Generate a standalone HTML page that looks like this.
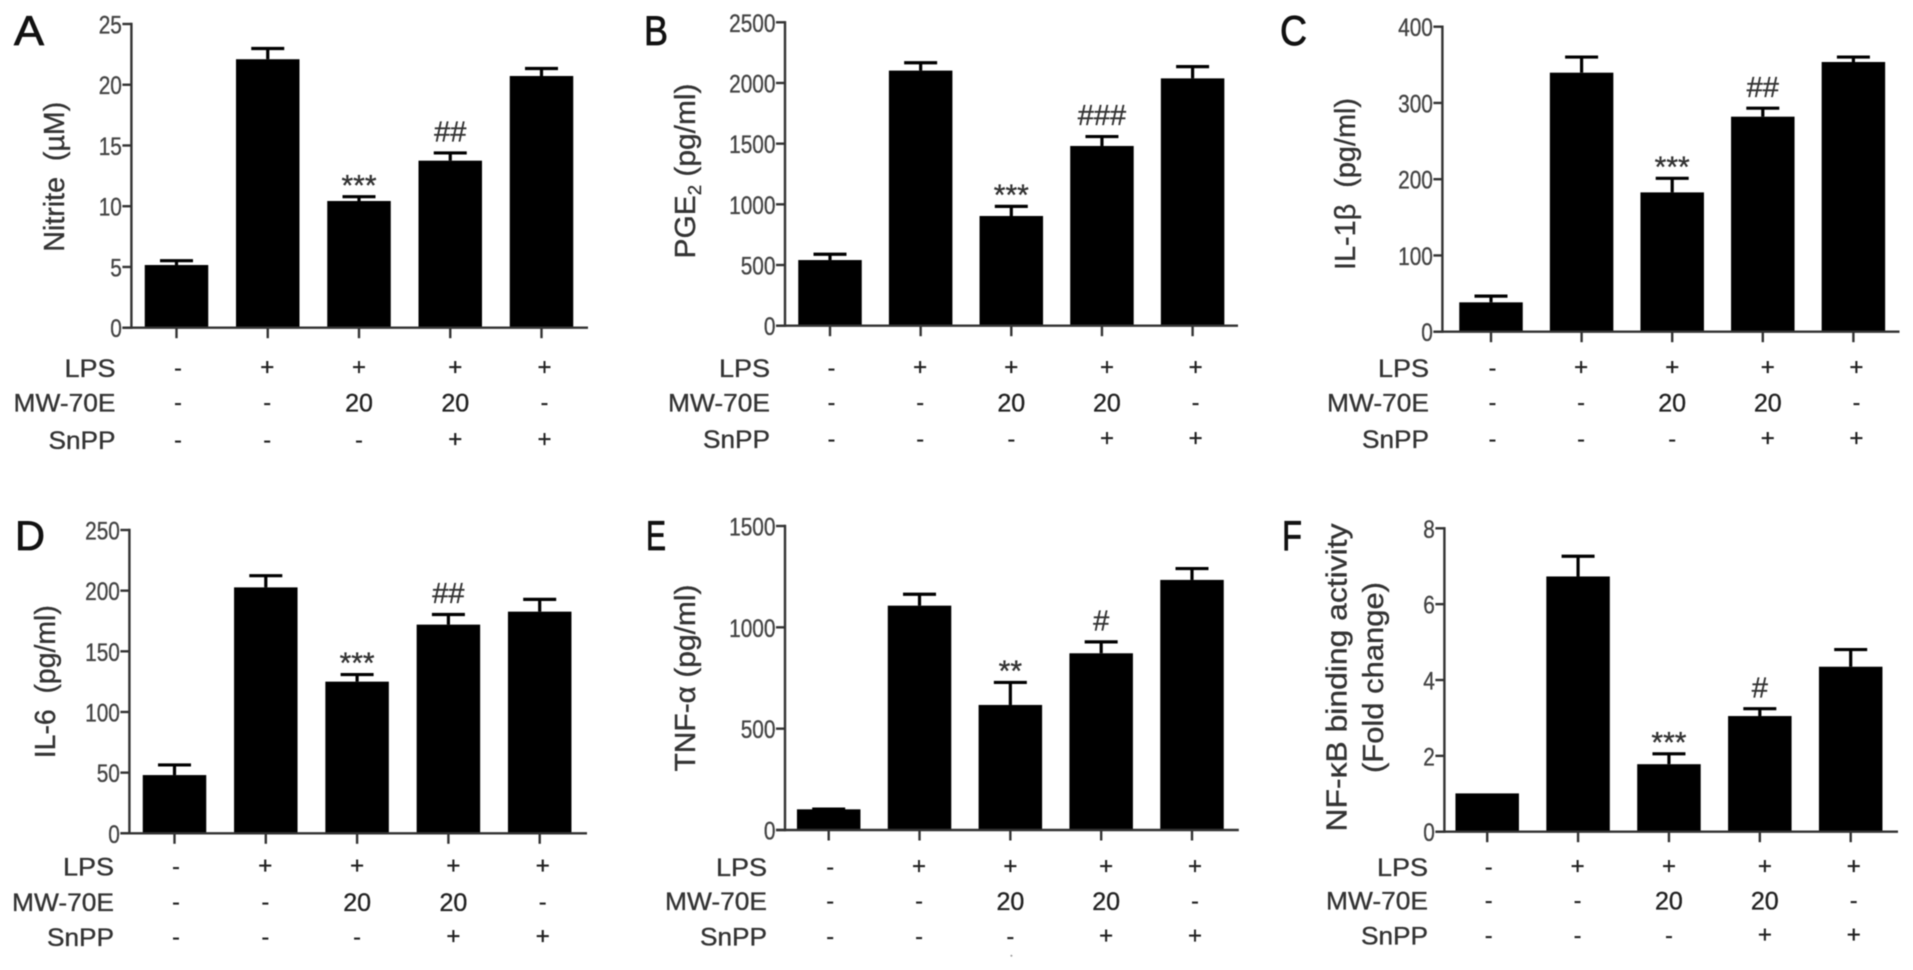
<!DOCTYPE html>
<html lang="en">
<head>
<meta charset="utf-8">
<title>Inflammatory mediator bar charts</title>
<style>
  html, body { margin: 0; padding: 0; background: #fff; }
  svg { display: block; filter: blur(0.6px); font-family: "Liberation Sans", sans-serif; }
</style>
</head>
<body>
<svg id="figure" xmlns="http://www.w3.org/2000/svg" width="1913" height="970" viewBox="0 0 1913 970"></svg>
<script>
// Treatment table
const lpsRow = ['-', '+', '+', '+', '+'];
const mwRow = ['-', '-', '20', '20', '-'];
const snppRow = ['-', '-', '-', '+', '+'];

// Panel A: Nitrite
const nitriteValues = [5.16, 22.1, 10.43, 13.75, 20.72];
const nitriteErrorTops = [5.63, 23.1, 10.9, 14.5, 21.45];
const nitriteTicks = [0, 5, 10, 15, 20, 25];
const nitriteMarks = ['', '', '***', '##', ''];

// Panel B: PGE2
const pgeValues = [541, 2102, 904, 1481, 2038];
const pgeErrorTops = [600, 2178, 995, 1570, 2146];
const pgeTicks = [0, 500, 1000, 1500, 2000, 2500];
const pgeMarks = ['', '', '***', '###', ''];

// Panel C: IL-1 beta
const il1Values = [38.5, 339.7, 182.7, 282, 353.7];
const il1ErrorTops = [48.5, 362, 203, 295, 362];
const il1Ticks = [0, 100, 200, 300, 400];
const il1Marks = ['', '', '***', '##', ''];

// Panel D: IL-6
const il6Values = [48, 202.7, 125, 172, 182.7];
const il6ErrorTops = [57.5, 213.5, 132, 181.5, 194];
const il6Ticks = [0, 50, 100, 150, 200, 250];
const il6Marks = ['', '', '***', '##', ''];

// Panel E: TNF-alpha
const tnfValues = [102, 1107, 617, 872, 1234];
const tnfErrorTops = [110, 1170, 735, 935, 1297];
const tnfTicks = [0, 500, 1000, 1500];
const tnfMarks = ['', '', '**', '#', ''];

// Panel F: NF-kB
const nfkbValues = [1.01, 6.73, 1.78, 3.05, 4.35];
const nfkbErrorTops = [1.01, 7.3, 2.09, 3.28, 4.84];
const nfkbTicks = [0, 2, 4, 6, 8];
const nfkbMarks = ['', '', '***', '#', ''];

const panels = [
  { key: 'a', letter: 'A', values: nitriteValues, errs: nitriteErrorTops, ticks: nitriteTicks, marks: nitriteMarks,
    axisX: 131.4, y0: 327.7, yTop: 24, xEnd: 588, first: 176.5, last: 541.5,
    rows: [368, 402.5, 440], labelRight: 115.5,
    letterX: 14, letterY: 45, letterW: 30,
    titles: [{ text: 'Nitrite \u00A0(\u00B5M)', x: 64, cy: 176.7, len: 150 }] },
  { key: 'b', letter: 'B', values: pgeValues, errs: pgeErrorTops, ticks: pgeTicks, marks: pgeMarks,
    axisX: 785, y0: 325.7, yTop: 22.3, xEnd: 1238, first: 830, last: 1192.6,
    rows: [368, 402.5, 439], labelRight: 770,
    letterX: 644, letterY: 45, letterW: 24,
    titles: [{ text: 'PGE', sub: '2', rest: ' (pg/ml)', x: 695, cy: 171, len: 175 }] },
  { key: 'c', letter: 'C', values: il1Values, errs: il1ErrorTops, ticks: il1Ticks, marks: il1Marks,
    axisX: 1442.4, y0: 331.7, yTop: 26.7, xEnd: 1899.5, first: 1491, last: 1853.4,
    rows: [368, 402.5, 439], labelRight: 1429,
    letterX: 1280, letterY: 45, letterW: 27,
    titles: [{ text: 'IL-1\u03B2 \u00A0(pg/ml)', x: 1355, cy: 184, len: 172 }] },
  { key: 'd', letter: 'D', values: il6Values, errs: il6ErrorTops, ticks: il6Ticks, marks: il6Marks,
    axisX: 129.4, y0: 833.3, yTop: 530, xEnd: 587, first: 174.5, last: 539.7,
    rows: [866.7, 902, 937], labelRight: 114,
    letterX: 15, letterY: 550, letterW: 30,
    titles: [{ text: 'IL-6 \u00A0(pg/ml)', x: 55, cy: 681.7, len: 153 }] },
  { key: 'e', letter: 'E', values: tnfValues, errs: tnfErrorTops, ticks: tnfTicks, marks: tnfMarks,
    axisX: 785, y0: 830, yTop: 526, xEnd: 1238.8, first: 828.7, last: 1192,
    rows: [867, 901, 936.7], labelRight: 767,
    letterX: 646, letterY: 550, letterW: 20,
    titles: [{ text: 'TNF-\u03B1 (pg/ml)', x: 695, cy: 678, len: 187 }] },
  { key: 'f', letter: 'F', values: nfkbValues, errs: nfkbErrorTops, ticks: nfkbTicks, marks: nfkbMarks,
    axisX: 1444.4, y0: 831.7, yTop: 528.3, xEnd: 1898, first: 1487.2, last: 1850.7,
    rows: [867, 900.5, 935.7], labelRight: 1428,
    letterX: 1282, letterY: 550, letterW: 20,
    titles: [{ text: 'NF-\u03BAB binding activity', x: 1346.5, cy: 677.5, len: 308 },
             { text: '(Fold change)', x: 1383, cy: 677.5, len: 191 }] }
];

const rowNames = ['LPS', 'MW-70E', 'SnPP'];
const rowLabelLengths = [51, 102, 67];
const rowData = [lpsRow, mwRow, snppRow];
const columnShift = [1.5, -0.5, 0, 5, 3];
const BAR_W = 63.5;
const CAP_W = 33;
const INK = '#333';
const THIN = 0.35;

const svg = document.getElementById('figure');
const NS = 'http://www.w3.org/2000/svg';

function make(tag, props, parent) {
  const el = document.createElementNS(NS, tag);
  for (const k in props) el.setAttribute(k, props[k]);
  parent.appendChild(el);
  return el;
}

function yScale(p, v) {
  const max = p.ticks[p.ticks.length - 1];
  return p.y0 - (v / max) * (p.y0 - p.yTop);
}

function xScale(p, i) {
  return p.first + i * (p.last - p.first) / (p.values.length - 1);
}

panels.forEach(function (p) {
  const g = make('g', {}, svg);
  
  

  const letter = make('text', { x: p.letterX, y: p.letterY, 'font-size': 42, fill: '#111', stroke: '#111', 'stroke-width': 0.8, textLength: p.letterW, lengthAdjust: 'spacingAndGlyphs' }, g);
  
  
  letter.textContent = p.letter;

  p.titles.forEach(function (t) {
    const title = make('text', { transform: 'translate(' + t.x + ',' + t.cy + ') rotate(-90)', 'text-anchor': 'middle', 'font-size': 29, fill: INK, stroke: INK, 'stroke-width': THIN, textLength: t.len, lengthAdjust: 'spacingAndGlyphs' }, g);
    
    
    if (t.sub) {
      const a = make('tspan', {}, title);
      a.textContent = t.text;
      const b = make('tspan', { 'font-size': 18, dy: 6 }, title);
      b.textContent = t.sub;
      const c = make('tspan', { dy: -6 }, title);
      c.textContent = t.rest;
    } else {
      title.textContent = t.text;
    }
  });

  p.values.forEach(function (v, i) {
    const cx = xScale(p, i);
    const top = yScale(p, v);
    const bar = make('rect', { x: cx - BAR_W / 2, y: top, width: BAR_W, height: p.y0 - top, fill: '#000' }, g);
    
    

    const errY = yScale(p, p.errs[i]) + 1.4;
    if (p.errs[i] > v) {
      const stem = make('line', { x1: cx, x2: cx, y1: top, y2: errY, stroke: '#000', 'stroke-width': 3.2 }, g);
      
      
      const cap = make('line', { x1: cx - CAP_W / 2, x2: cx + CAP_W / 2, y1: errY, y2: errY, stroke: '#000', 'stroke-width': 3.2 }, g);
      
      
    }

    const tick = make('line', { x1: cx, x2: cx, y1: p.y0, y2: p.y0 + 10.5, stroke: INK, 'stroke-width': 2.4 }, g);
    
    

    const m = p.marks[i];
    if (m) {
      const isStar = m.charAt(0) === '*';
      const markY = yScale(p, p.errs[i]) + (isStar ? 0 : -10);
      const mark = make('text', { x: cx, y: markY, 'text-anchor': 'middle', 'font-size': isStar ? 30 : 29, fill: INK, stroke: INK, 'stroke-width': THIN }, g);
      
      
      mark.textContent = m;
    }
  });

  const yAxis = make('line', { x1: p.axisX, x2: p.axisX, y1: p.yTop - 1.2, y2: p.y0 + 1.2, stroke: INK, 'stroke-width': 2.4 }, g);
  
  
  const xAxis = make('line', { x1: p.axisX - 9, x2: p.xEnd, y1: p.y0, y2: p.y0, stroke: INK, 'stroke-width': 2.4 }, g);
  
  

  p.ticks.forEach(function (t) {
    const y = yScale(p, t);
    const tick = make('line', { x1: p.axisX - 9, x2: p.axisX, y1: y, y2: y, stroke: INK, 'stroke-width': 2.4 }, g);
    
    
    const s = String(t);
    const label = make('text', { x: p.axisX - 9.5, y: y + 9.5, 'text-anchor': 'end', 'font-size': 25, fill: '#444', stroke: '#444', 'stroke-width': THIN, textLength: 11.6 * s.length, lengthAdjust: 'spacingAndGlyphs' }, g);
    
    
    label.textContent = s;
  });

  rowNames.forEach(function (name, r) {
    const rowY = p.rows[r];
    const head = make('text', { x: p.labelRight, y: rowY + 9, 'text-anchor': 'end', 'font-size': 25, fill: INK, stroke: INK, 'stroke-width': THIN, textLength: rowLabelLengths[r], lengthAdjust: 'spacingAndGlyphs' }, g);
    
    
    head.textContent = name;

    rowData[r].forEach(function (val, i) {
      const cx = xScale(p, i) + columnShift[i];
      let baseline = rowY + 9;
      let size = 25;
      if (val === '+') { baseline = rowY + 7; size = 24; }
      if (val === '-') { baseline = rowY + 8; size = 23; }
      const cell = make('text', { x: cx, y: baseline, 'text-anchor': 'middle', 'font-size': size, fill: '#222', stroke: '#222', 'stroke-width': THIN }, g);
      
      
      cell.textContent = val;
    });
  });
});

const speck = make('circle', { cx: 1011.4, cy: 955.7, r: 1, fill: '#999' }, svg);


</script>
</body>
</html>
